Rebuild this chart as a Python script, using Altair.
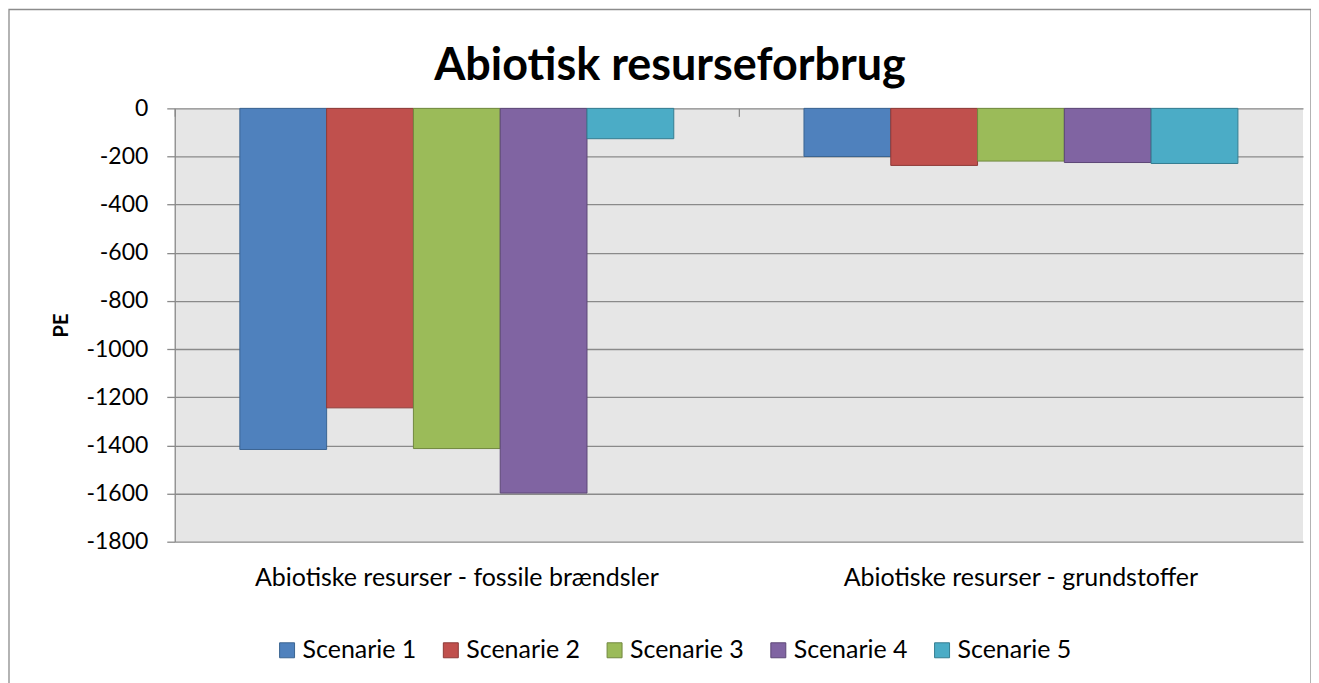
import altair as alt
import pandas as pd

categories = ["Abiotiske resurser - fossile brændsler", "Abiotiske resurser - grundstoffer"]
scenarios = ["Scenarie 1", "Scenarie 2", "Scenarie 3", "Scenarie 4", "Scenarie 5"]
fossile = [-1417, -1244, -1413, -1598, -126]
grundstoffer = [-200, -237, -219, -225, -229]
y_ticks = [0, -200, -400, -600, -800, -1000, -1200, -1400, -1600, -1800]

fill_colors = ["#4F81BD", "#C0504D", "#9BBB59", "#8064A2", "#4BACC6"]
stroke_colors = ["#3B6492", "#8E3A37", "#71893F", "#5C4776", "#357D91"]

rows = []
for s, v in zip(scenarios, fossile):
    rows.append({"category": categories[0], "scenario": s, "value": v})
for s, v in zip(scenarios, grundstoffer):
    rows.append({"category": categories[1], "scenario": s, "value": v})
df = pd.DataFrame(rows)

FONT = "Lato"
W, H = 1130, 434

xscale = alt.Scale(paddingInner=0.2308, paddingOuter=0.1154)

base = alt.Chart(df).encode(
    xOffset=alt.XOffset("scenario:N", sort=scenarios,
                        scale=alt.Scale(paddingInner=0, paddingOuter=0)),
    y=alt.Y("value:Q", scale=alt.Scale(domain=[-1800, 0], nice=False),
            axis=alt.Axis(values=y_ticks, title="PE", titleFont=FONT,
                          titleFontSize=20, titleFontWeight="bold",
                          titleColor="#000000", titleAngle=-90,
                          titleX=-113, titleY=H / 2, titleAlign="center",
                          titleBaseline="middle",
                          labelFont=FONT, labelFontSize=23, labelColor="#000000",
                          labelExpr="'' + datum.value", labelPadding=19,
                          tickSize=8, tickColor="#8A8A8A", tickWidth=1.3,
                          domainColor="#8A8A8A", domainWidth=1.3,
                          grid=True, gridColor="#8A8A8A", gridWidth=1.3)),
    fill=alt.Fill("scenario:N", sort=scenarios,
                  scale=alt.Scale(domain=scenarios, range=fill_colors),
                  legend=alt.Legend(title=None, orient="none", direction="horizontal",
                                    legendX=100, legendY=530, symbolType="square",
                                    symbolSize=225, symbolStrokeWidth=1,
                                    labelFont=FONT, labelFontSize=25,
                                    labelColor="#000000", labelOffset=3,
                                    columnPadding=22, padding=0, labelLimit=0)),
    stroke=alt.Stroke("scenario:N", sort=scenarios,
                      scale=alt.Scale(domain=scenarios, range=stroke_colors)),
)

bars = base.mark_bar(strokeWidth=1).encode(
    x=alt.X("category:N", sort=categories, scale=xscale,
            axis=alt.Axis(title=None, orient="bottom", labelAngle=0, labelFont=FONT,
                          labelFontSize=25, labelColor="#000000", labelLimit=0,
                          labelPadding=24, ticks=False, domain=False, grid=False))
)

tick_layer = base.mark_bar(opacity=0).encode(
    x=alt.X("category:N", sort=categories, scale=xscale,
            axis=alt.Axis(title=None, orient="bottom", labels=False, ticks=True,
                          tickSize=8, tickColor="#8A8A8A", tickWidth=1.3,
                          domain=False, grid=False, offset=-H, bandPosition=-0.15))
)

frame = alt.Chart(pd.DataFrame({"k": [0]})).mark_rect(
    fill="transparent", stroke="#8C8C8C", strokeWidth=1.3
).encode(x=alt.value(-166), x2=alt.value(1138), y=alt.value(-99), y2=alt.value(700))

chart = alt.layer(bars, tick_layer, frame).resolve_axis(x="independent").properties(
    width=W, height=H,
    autosize=alt.AutoSizeParams(type="none"),
    padding={"left": 167, "top": 100, "right": 8, "bottom": 141},
    title=alt.Title("Abiotisk resurseforbrug", font=FONT, fontSize=45,
                    fontWeight="bold", color="#000000", anchor="middle",
                    frame="group", dx=-69, offset=-116, baseline="alphabetic"),
    background="#FFFFFF",
).configure_view(fill="#E6E6E6", strokeWidth=0)

chart.save("out.html", embed_options={"renderer": "svg", "actions": False})
